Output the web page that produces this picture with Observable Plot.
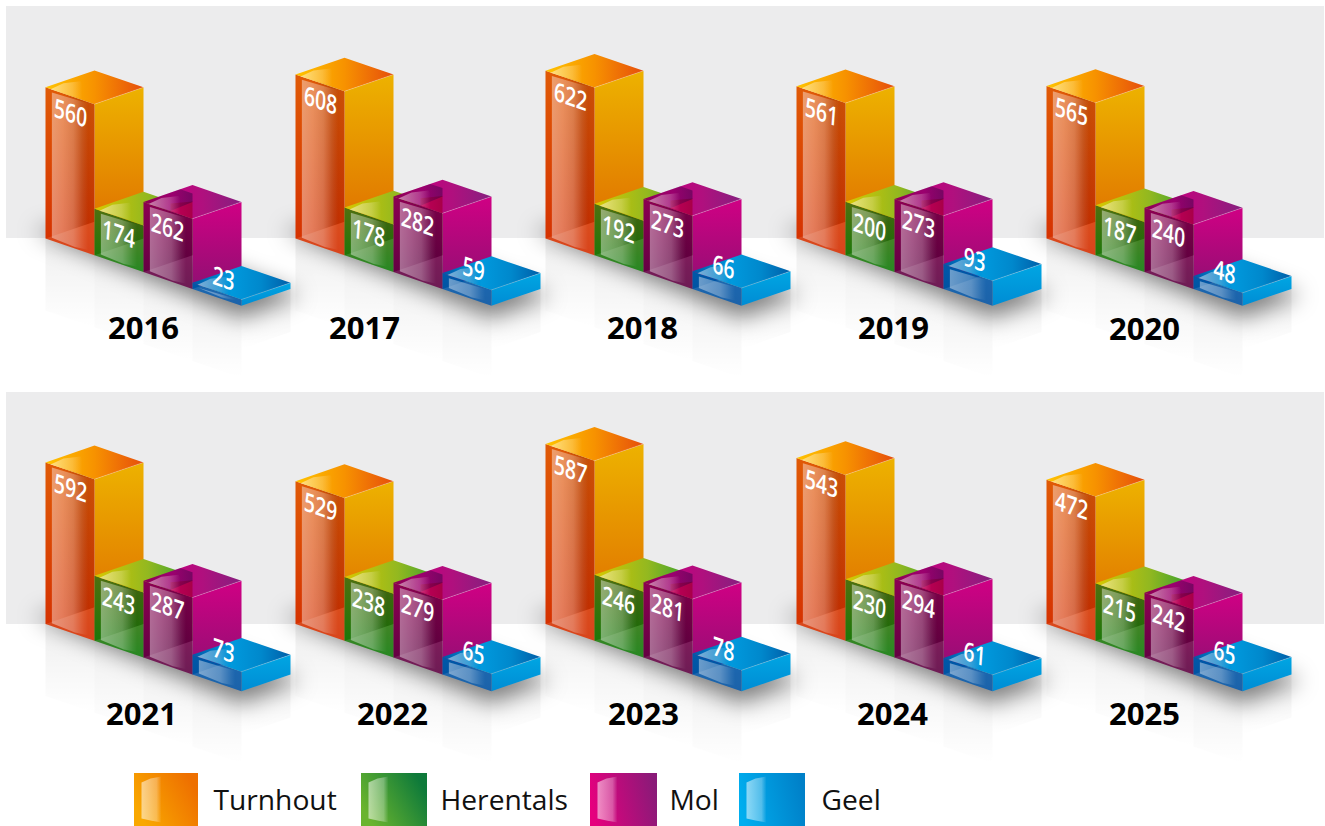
<!DOCTYPE html>
<html>
<head>
<meta charset="utf-8">
<style>html,body{margin:0;padding:0;background:#fff;overflow:hidden}svg{display:block}</style>
<script src="https://cdn.jsdelivr.net/npm/d3@7"></script>
<script src="https://cdn.jsdelivr.net/npm/@observablehq/plot@0.6"></script>
</head>
<body>
<script>
// ---------- data ----------
const years = [2016,2017,2018,2019,2020,2021,2022,2023,2024,2025];
const cities = ["Turnhout","Herentals","Mol","Geel"];
const turnhout  = [560,608,622,561,565,592,529,587,543,472];
const herentals = [174,178,192,200,187,243,238,246,230,215];
const mol       = [262,282,273,273,240,287,279,281,294,242];
const geel      = [23,59,66,93,48,73,65,78,61,65];
// Turnhout's drawn bars are not always in proportion with the printed figures: heights as read
const turnhoutDrawn = [564,612,626,568,569,603,533,672,619,538];

// ---------- layout ----------
const W = 1325, H = 826, K = 0.268, DX = 49, DY = 16.8, REFLECT = 72;
const panelX = [45,295,545,796,1046,45,295,545,796,1046];
const panelBase = [238,238,238,238,238,623.5,623.5,623.5,623.5,623.5];
const yearX = [143,364,642,893,1144,141,392,643,892,1144];
const yearY = [329,329,329,329,330,715,715,715,715,715];
const bands = [{top:6,bottom:238},{top:392,bottom:624}];
const legendX = [[134,198],[361,427],[590,657],[739,805]];
const legendTextX = [213,440,669,821];
const printed = [turnhout,herentals,mol,geel];
const drawn = [turnhoutDrawn,herentals,mol,geel];
const keys = ["t","h","m","g"];

const gradients = {
  tLeft:[90,[[0,"#e05a06"],[1,"#d42e00"]]],
  tRight:[90,[[0,"#edb200"],[1,"#dd6600"]]],
  tTop:[0,[[0,"#ffc400"],[.5,"#f79200"],[1,"#e64e0c"]]],
  hLeft:[90,[[0,"#4f7010"],[1,"#0e7a08"]]],
  hRight:[90,[[0,"#6aa820"],[1,"#2f8a20"]]],
  hTop:[0,[[0,"#d8c800"],[.55,"#92b820"],[1,"#2f9e30"]]],
  mLeft:[90,[[0,"#8c0052"],[1,"#5c0040"]]],
  mRight:[90,[[0,"#d00084"],[1,"#8f1072"]]],
  mTop:[0,[[0,"#8a0050"],[.3,"#c0007e"],[.6,"#b0107e"],[1,"#85207f"]]],
  gLeft:[90,[[0,"#0058a8"],[1,"#004f9f"]]],
  gRight:[90,[[0,"#00a6e3"],[1,"#008cd4"]]],
  gTop:[0,[[0,"#0058a8"],[.4,"#0099dd"],[.7,"#0088cc"],[1,"#005ea8"]]],
  legt:[-25,[[0,"#f9a800"],[1,"#ee7000"]]],
  legh:[-25,[[0,"#6ab42e"],[1,"#0e7a3a"]]],
  legm:[-10,[[0,"#e6007e"],[1,"#8a1a78"]]],
  legg:[-10,[[0,"#00aeef"],[1,"#0080c8"]]],
  crimson:[0,[[0,"#c0005a"],[1,"#a80048"]]]
};
const alphaGradients = {
  glass:[0,[[0,.42],[.5,.28],[.75,.07],[.85,0],[1,0]],"#fff"],
  glassTop:[0,[[0,.5],[.5,.22],[.72,0],[1,0]],"#fff"],
  legGlass:[0,[[0,.55],[.75,.32],[1,0]],"#fff"],
  shade:[0,[[0,0],[.6,.13],[1,.08]],"#000"],
  molBack:[0,[[0,.0],[.5,.2],[1,.45]],"#2a0040"],
  reflect:[90,[[0,.065],[1,0]],"#000"]
};

function defsMark(i, s, v, d, ctx) {
  const defs = d3.select(ctx.ownerSVGElement).append("defs").remove();
  const add = (id, angle, stops) => {
    const r = angle * Math.PI / 180, c = Math.cos(r), n = Math.sin(r);
    const g = defs.append("linearGradient").attr("id", id)
      .attr("x1", .5 - c/2).attr("y1", .5 - n/2).attr("x2", .5 + c/2).attr("y2", .5 + n/2);
    stops.forEach(([o, col, op]) => {
      const st = g.append("stop").attr("offset", o).attr("stop-color", col);
      if (op != null) st.attr("stop-opacity", op);
    });
  };
  for (const [id,[a,st]] of Object.entries(gradients)) add(id, a, st);
  for (const [id,[a,st,col]] of Object.entries(alphaGradients)) add(id, a, st.map(([o,op]) => [o,col,op]));
  return defs.node();
}

// ---------- geometry derived from values; y positions are expressed in value units ----------
const px = y => y / K;
const rows = {}; // layer name -> point rows
const pushPoly = (layer, id, pts) => pts.forEach(([x,y]) => (rows[layer] ??= []).push({id, x, y: px(y)}));

years.forEach((yr, p) => {
  const x0 = panelX[p], b0 = panelBase[p];
  pushPoly("shadow", `s${p}`, [[x0-12,b0-8],[x0+4*DX,b0+4*DY+12],[x0+5*DX+10,b0+3*DY+6],[x0+3*DX,b0+DY],[x0+DX,b0-DY]]);
  cities.forEach((c, s) => {
    const lx = x0 + DX*s, by = b0 + DY*s;
    pushPoly("reflect", `r${p}-${s}`, [[lx,by],[lx+DX,by+DY],[lx+DX,by+DY+REFLECT],[lx,by+REFLECT]]);
    if (s === 3) pushPoly("reflect", `r${p}-e`, [[lx+DX,by+DY],[lx+2*DX,by],[lx+2*DX,by+REFLECT*.6],[lx+DX,by+DY+REFLECT*.6]]);
    const h = drawn[s][p] * K, k = keys[s], id = `${p}-${s}`, ty = by - h;
    pushPoly(k+"Right", id, [[lx+DX,ty+DY],[lx+2*DX,ty],[lx+2*DX,by],[lx+DX,by+DY]]);
    pushPoly(k+"Left", id, [[lx,ty],[lx+DX,ty+DY],[lx+DX,by+DY],[lx,by]]);
    pushPoly(k+"Top", id, [[lx,ty],[lx+DX,ty-DY],[lx+2*DX,ty],[lx+DX,ty+DY]]);
    // dark end of the glass front, above the floor line
    const t = Math.min(1, h/(2*DY));
    if (t === 1) pushPoly(k+"Shade", id, [[lx+DX*.35,ty+DY*.35],[lx+DX,ty+DY],[lx+DX,by-DY],[lx+DX*.35,by-DY*.35]]);
    // floor seen through the glass front
    pushPoly(k+"Floor", id, t < 1
      ? [[lx,by],[lx+DX*t,by-DY*t],[lx+DX,ty+DY],[lx+DX,by+DY]]
      : [[lx,by],[lx+DX,by-DY],[lx+DX,by+DY]]);
    // glass highlights
    const g = .13 * DX;
    pushPoly(k+"Glass", id, [[lx+g,ty+DY*.13+3],[lx+DX,ty+DY+1],[lx+DX,by+DY-4],[lx+DX*.6,by+DY*.6-1.5],[lx+g,by+DY*.13-3]]);
    if (s === 2) {
      pushPoly("mBack", id, [[lx,ty],[lx+DX*.75,ty-DY*.75],[lx+DX,ty-DY*.5],[lx+DX,ty],[lx+DX*.55,ty+DY*.55]]);
      pushPoly("mCrimson", id, [[lx+DX*.55,ty+DY*.1],[lx+DX,ty-.5],[lx+DX,ty+DY],[lx+DX*.55,ty+DY*.55]]);
    }
    pushPoly(k+"GlassTop", id, [[lx+5,ty+2],[lx+18,ty-4],[lx+35,ty-6],[lx+DX,ty+DY-1]]);
    pushPoly(k+"Edge", id, [[lx+DX,ty+DY],[lx+2*DX,ty]]);
  });
});

const legendRows = [], legendGlass = [];
cities.forEach((c,i) => {
  const [a,b] = legendX[i];
  legendRows.push({city:c, x1:a, x2:b, y1:px(773), y2:px(826)});
  [[a+7,782],[a+16,778],[a+27,776],[a+27,822],[a+16,820],[a+7,818]].forEach(([x,y]) => legendGlass.push({id:c,x,y:px(y)}));
});

const poly = (layer, fill, extra={}) => Plot.line(rows[layer], {x:"x", y:"y", z:"id", fill, stroke:"none", ...extra});

// labels
const labelRows = [];
years.forEach((yr,p) => cities.forEach((c,s) => {
  const lx = panelX[p] + DX*s, by = panelBase[p] + DY*s, ty = by - drawn[s][p]*K;
  const off = s === 3 ? 31 : (s === 0 ? 25 : 24);
  const edge = ty + DY*off/DX;
  labelRows.push({x:lx+off, y:px(edge + (s === 3 ? -14 : 18)), label:String(printed[s][p])});
}));
const yearRows = years.map((yr,i) => ({x:yearX[i], y:px(yearY[i]), label:String(yr)}));
const legendLabels = cities.map((c,i) => ({x:legendTextX[i], y:px(800), label:c}));

const marks = [defsMark];
marks.push(Plot.rect(bands, {x1:6, x2:1324, y1:d=>px(d.top), y2:d=>px(d.bottom), fill:"#ececed"}));
marks.push(poly("reflect", "url(#reflect)"));
marks.push(poly("shadow", "#000", {fillOpacity:.48, imageFilter:"blur(11px)"}));
keys.forEach(k => {
  marks.push(poly(k+"Right", `url(#${k}Right)`));
  marks.push(poly(k+"Left", `url(#${k}Left)`));
  marks.push(poly(k+"Top", `url(#${k}Top)`));
  if (rows[k+"Shade"]) marks.push(poly(k+"Shade", "url(#shade)"));
  marks.push(poly(k+"Floor", "#fff", {fillOpacity:.11}));
  marks.push(poly(k+"Glass", "url(#glass)"));
  if (k === "m") {
    marks.push(poly("mCrimson", "url(#crimson)"));
    marks.push(poly("mBack", "url(#molBack)"));
  }
  marks.push(poly(k+"GlassTop", "url(#glassTop)"));
  marks.push(Plot.line(rows[k+"Edge"], {x:"x", y:"y", z:"id", stroke:"#fff", strokeOpacity:.3, strokeWidth:.8}));
});
marks.push(Plot.text(labelRows, {x:"x", y:"y", text:"label", rotate:19, className:"vlabel", fill:"#fff", fontSize:24, fontWeight:600, fontFamily:"'Open Sans',sans-serif"}));
marks.push(Plot.text(yearRows, {x:"x", y:"y", text:"label", fill:"#000", fontSize:31, fontWeight:700, fontFamily:"'Open Sans',sans-serif"}));
cities.forEach((c,i) => {
  marks.push(Plot.rect(legendRows.filter(d=>d.city===c), {x1:"x1", x2:"x2", y1:"y1", y2:"y2", fill:`url(#leg${keys[i]})`}));
});
marks.push(Plot.line(legendGlass, {x:"x", y:"y", z:"id", fill:"url(#legGlass)", stroke:"none"}));
marks.push(Plot.text(legendLabels, {x:"x", y:"y", text:"label", textAnchor:"start", fill:"#111", fontSize:28.2, fontFamily:"'Open Sans',sans-serif"}));

const chart = Plot.plot({
  width:W, height:H, margin:0,
  style:{background:"#fff", overflow:"hidden"},
  x:{domain:[0,W], range:[0,W], axis:null},
  y:{domain:[0,H/K], range:[0,H], axis:null},
  marks
});
// the value labels lie on the slanted front faces: shear them along the face and narrow them
d3.select(chart).selectAll(".vlabel text").attr("transform", function() {
  return this.getAttribute("transform").replace(/rotate\([^)]*\)/, "skewY(19) skewX(-4) scale(.8,1.1)");
});
document.body.append(chart);
</script>
</body>
</html>
